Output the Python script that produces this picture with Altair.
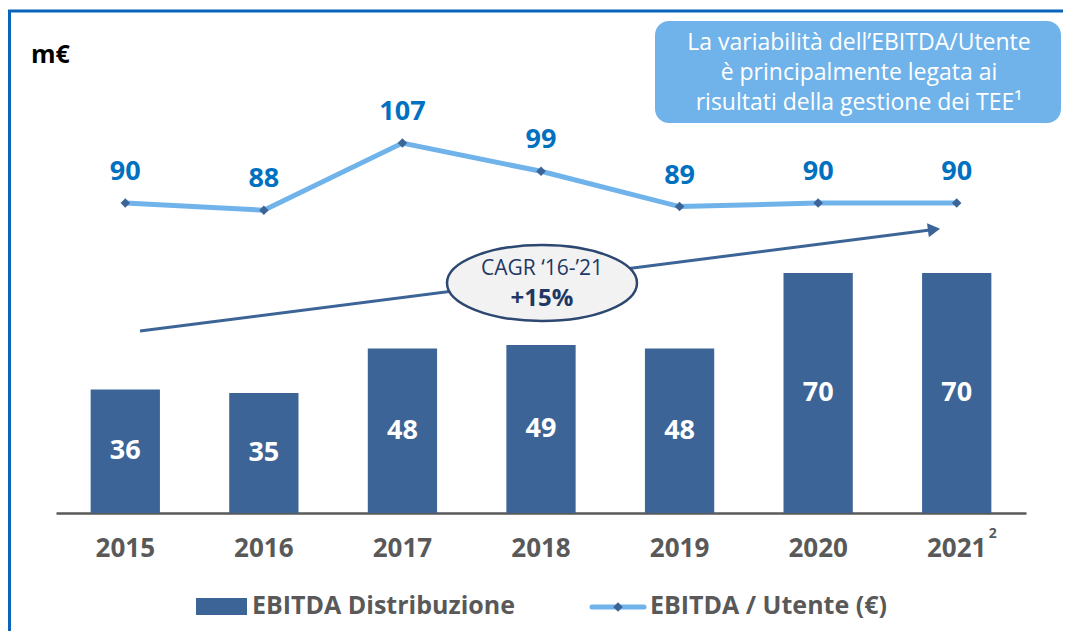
import altair as alt
import pandas as pd

# ---- data ----
years = ["2015", "2016", "2017", "2018", "2019", "2020", "2021"]
ebitda = [36, 35, 48, 49, 48, 70, 70]
utente = [90, 88, 107, 99, 89, 90, 90]

callout_lines = [
    "La variabilità dell’EBITDA/Utente",
    "è principalmente legata ai",
    "risultati della gestione dei TEE¹",
]
cagr_label = "CAGR ‘16-’21"
cagr_value = "+15%"
unit_label = "m€"
legend_bar = "EBITDA Distribuzione"
legend_line = "EBITDA / Utente (€)"
footnote_2021 = "2"

df = pd.DataFrame({"year": years, "ebitda": ebitda, "utente": utente})
one = pd.DataFrame({"k": [0]})

BAR = "#3c6496"
LINE = "#70b3ea"
MARK = "#3c6496"
VAL = "#0070c0"
GREY = "#595959"
NAVY = "#1f3864"
FRAME = "#0a64b8"
FONT = "Open Sans"

W, H = 970, 473

X = alt.X(
    "year:N",
    sort=years,
    title=None,
    scale=alt.Scale(paddingInner=0.5, paddingOuter=0.25),
    axis=alt.Axis(
        labelAngle=0,
        labelFont=FONT,
        labelFontSize=26,
        labelFontWeight="bold",
        labelColor=GREY,
        labelPadding=22,
        ticks=False,
        tickSize=0,
        grid=False,
        domainColor=GREY,
        domainWidth=2.5,
    ),
)

ybar = alt.Scale(domain=[0, 138])
yline = alt.Scale(domain=[2.2, 136.2])

base = alt.Chart(df)

bars = base.mark_bar(color=BAR).encode(
    x=X, y=alt.Y("ebitda:Q", scale=ybar, axis=None)
)
bar_lbl = base.transform_calculate(mid="datum.ebitda / 2").mark_text(
    font=FONT, fontSize=27, fontWeight="bold", color="white", baseline="middle"
).encode(x=X, y=alt.Y("mid:Q", scale=ybar, axis=None), text="ebitda:Q")
group_bars = alt.layer(bars, bar_lbl)

line = base.mark_line(color=LINE, strokeWidth=5).encode(
    x=X, y=alt.Y("utente:Q", scale=yline, axis=None)
)
pts = base.mark_point(shape="diamond", filled=True, size=90, color=MARK, opacity=1).encode(
    x=X, y=alt.Y("utente:Q", scale=yline, axis=None)
)
line_lbl = base.mark_text(
    font=FONT, fontSize=27, fontWeight="bold", color=VAL, baseline="middle", dy=-31
).encode(x=X, y=alt.Y("utente:Q", scale=yline, axis=None), text="utente:Q")
group_line = alt.layer(line, pts, line_lbl)

sup = base.transform_filter(alt.datum.year == "2021").mark_text(
    text=footnote_2021, font=FONT, fontSize=14, fontWeight="bold", color=GREY,
    baseline="middle", dx=36
).encode(x=X, y=alt.value(494))

ann = alt.Chart(one)

frame_top = ann.mark_rule(color=FRAME, strokeWidth=3).encode(
    x=alt.value(-48), x2=alt.value(1010), y=alt.value(-29)
)
frame_left = ann.mark_rule(color=FRAME, strokeWidth=3).encode(
    x=alt.value(-46.5), y=alt.value(-30), y2=alt.value(600)
)

unit = ann.mark_text(
    text=unit_label, font=FONT, fontSize=25, fontWeight="bold", color="black",
    align="left", baseline="middle"
).encode(x=alt.value(-25), y=alt.value(15))

box = ann.mark_rect(color=LINE, cornerRadius=14).encode(
    x=alt.value(599), x2=alt.value(1005), y=alt.value(-19), y2=alt.value(83)
)
callout = [
    ann.mark_text(
        text=t, font=FONT, fontSize=23, color="white", align="center", baseline="middle"
    ).encode(x=alt.value(803), y=alt.value(yy))
    for t, yy in zip(callout_lines, [3, 33, 63])
]

arrow = ann.mark_rule(color=BAR, strokeWidth=3).encode(
    x=alt.value(84), y=alt.value(291), x2=alt.value(874), y2=alt.value(190)
)
arrow_head = ann.mark_point(
    shape="triangle-right", filled=True, size=200, color=BAR, opacity=1, angle=352.7
).encode(x=alt.value(878), y=alt.value(189.5))

ellipse = ann.mark_point(
    shape="M-1,0A1,0.4,0,1,1,1,0A1,0.4,0,1,1,-1,0Z",
    size=36100, filled=False, fill="#f2f2f2", fillOpacity=1, opacity=1,
    stroke="#2c4770", strokeWidth=2.5,
).encode(x=alt.value(486), y=alt.value(243))
cagr1 = ann.mark_text(
    text=cagr_label, font=FONT, fontSize=21, color=NAVY, align="center", baseline="middle"
).encode(x=alt.value(486), y=alt.value(229))
cagr2 = ann.mark_text(
    text=cagr_value, font=FONT, fontSize=24, fontWeight="bold", color=NAVY,
    align="center", baseline="middle"
).encode(x=alt.value(486), y=alt.value(259))

leg_rect = ann.mark_rect(color=BAR).encode(
    x=alt.value(140), x2=alt.value(191), y=alt.value(558), y2=alt.value(575)
)
leg_txt1 = ann.mark_text(
    text=legend_bar, font=FONT, fontSize=25, fontWeight="bold", color=GREY,
    align="left", baseline="middle"
).encode(x=alt.value(196), y=alt.value(566))
leg_line = ann.mark_rule(color=LINE, strokeWidth=5, strokeCap="round").encode(
    x=alt.value(536), x2=alt.value(588), y=alt.value(567)
)
leg_pt = ann.mark_point(shape="diamond", filled=True, size=90, color=MARK, opacity=1).encode(
    x=alt.value(562), y=alt.value(567)
)
leg_txt2 = ann.mark_text(
    text=legend_line, font=FONT, fontSize=25, fontWeight="bold", color=GREY,
    align="left", baseline="middle"
).encode(x=alt.value(594), y=alt.value(566))

chart = (
    alt.layer(
        frame_top, frame_left, unit, box, *callout,
        group_bars, arrow, arrow_head, ellipse, cagr1, cagr2,
        group_line, sup,
        leg_rect, leg_txt1, leg_line, leg_pt, leg_txt2,
    )
    .resolve_scale(y="independent")
    .properties(
        width=W,
        height=H,
        autosize=alt.AutoSizeParams(type="none"),
        padding={"left": 48, "top": 32, "right": 37, "bottom": 118},
        background="white",
    )
    .configure_view(stroke=None)
)

chart.save("out.html", embed_options={"renderer": "svg", "actions": False})
